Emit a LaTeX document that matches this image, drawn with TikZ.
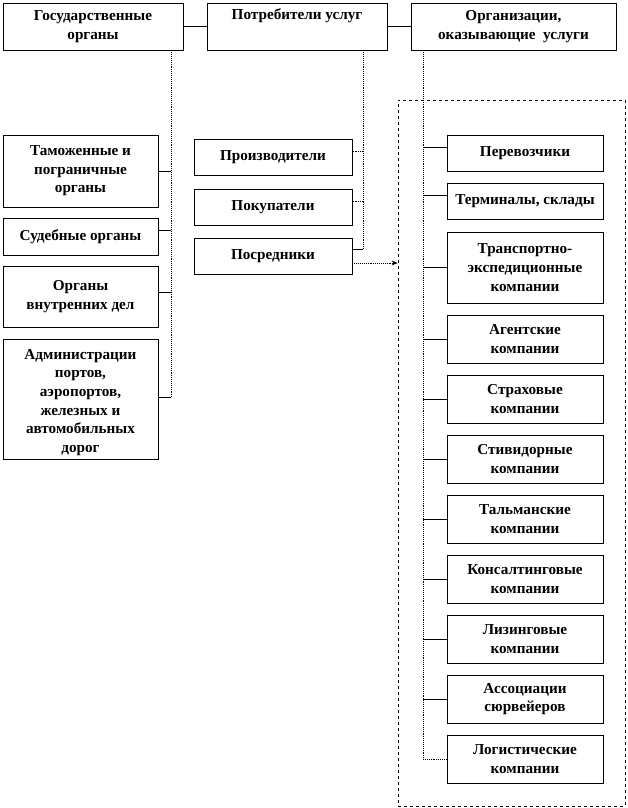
\documentclass[tikz,border=0pt]{standalone}
\usepackage{fontspec}
\setmainfont{Liberation Serif}
\usetikzlibrary{calc,arrows.meta}
\begin{document}
\begin{tikzpicture}[x=1pt,y=-1pt,
  box/.style n args={2}{draw, line width=0.8pt, align=center, inner sep=0pt,
    font=\fontsize{15.2}{18.6}\selectfont\bfseries,
    minimum width=#1pt, minimum height=#2pt},
  trunk/.style={line width=0.9pt, densely dotted},
  branch/.style={line width=0.8pt},
  dbranch/.style={line width=0.9pt, densely dotted},
  group/.style={draw, line width=0.8pt, dashed, inner sep=0pt},
  arr/.style={line width=0.9pt, densely dotted, -{Stealth[length=6pt,width=5pt]}}
]
\useasboundingbox (0,0) rectangle (628,808);
% top row
\node[box={180}{47}] (gos) at (93,26.5) {Государственные\\органы};
\node[box={180}{47}] (pot) at (297,26.5) {Потребители услуг\\\strut};
\node[box={205}{47}] (org) at (513.5,26.5) {Организации,\\оказывающие\ \ услуги};
\draw[branch] (gos.east) -- (pot.west);
\draw[branch] (pot.east) -- (org.west);
% left column
\node[box={155}{72}] (tam) at (80.5,171) {Таможенные и\\пограничные\\органы};
\node[box={155}{37}] (sud) at (80.5,236.5) {Судебные органы};
\node[box={155}{61}] (vnd) at (80.5,296.5) {Органы\\внутренних дел};
\node[box={155}{120}] (adm) at (80.5,399) {\rule{0pt}{17pt}Администрации\\портов,\\аэропортов,\\железных и\\автомобильных\\дорог};
\coordinate (gt) at (171,0 |- gos.south);
\coordinate (tamc) at (tam.east);
\coordinate (sudc) at ([yshift=6pt]sud.east);
\coordinate (vndc) at ([yshift=4pt]vnd.east);
\coordinate (admc) at ([yshift=2pt]adm.east);
\draw[trunk] (gt) -- (gt |- admc);
\foreach \c in {tamc,sudc,vndc,admc}
  \draw[branch] (gt |- \c) -- (\c);
% middle column
\node[box={158}{36}] (prod) at (273,157) {Производители};
\node[box={158}{36}] (pok) at (273,207) {Покупатели};
\node[box={158}{36}] (posr) at (273,256) {Посредники};
\coordinate (pt) at (363,0 |- pot.south);
\coordinate (prodc) at ([yshift=6pt]prod.east);
\coordinate (pokc) at ([yshift=6pt]pok.east);
\coordinate (posrc) at ([yshift=7pt]posr.east);
\draw[trunk] (pt) -- (pt |- posrc);
\draw[dbranch] (pt |- prodc) -- (prodc);
\draw[dbranch] (pt |- pokc) -- (pokc);
\draw[branch] (pt |- posrc) -- (posrc);
% right group
\node[group, minimum width=227pt, minimum height=706pt] (grp) at (511.5,453) {};
\coordinate (a0) at ([yshift=-7pt]posr.east);
\draw[arr] (a0) -- (a0 -| grp.west);
\node[box={156}{36}] (r1) at (525,153) {Перевозчики};
\node[box={156}{36}] (r2) at (525,201) {Терминалы, склады};
\node[box={156}{71}] (r3) at (525,267.5) {Транспортно-\\экспедиционные\\компании};
\node[box={156}{48}] (r4) at (525,339) {Агентские\\компании};
\node[box={156}{48}] (r5) at (525,399) {Страховые\\компании};
\node[box={156}{48}] (r6) at (525,459) {Стивидорные\\компании};
\node[box={156}{48}] (r7) at (525,519) {Тальманские\\компании};
\node[box={156}{48}] (r8) at (525,579) {Консалтинговые\\компании};
\node[box={156}{48}] (r9) at (525,639) {Лизинговые\\компании};
\node[box={156}{48}] (r10) at (525,699) {Ассоциации\\сюрвейеров};
\node[box={156}{48}] (r11) at (525,759) {Логистические\\компании};
\coordinate (ot) at (423,0 |- org.south);
\coordinate (r1c) at ([yshift=6pt]r1.west);
\coordinate (r2c) at ([yshift=6pt]r2.west);
\draw[trunk] (ot) -- (ot |- r11.west);
\draw[branch] (ot |- r1c) -- (r1c);
\draw[branch] (ot |- r2c) -- (r2c);
\foreach \n in {r3,r4,r5,r6,r7,r8,r9,r10}
  \draw[branch] (ot |- \n.west) -- (\n.west);
\draw[dbranch] (ot |- r11.west) -- (r11.west);
\end{tikzpicture}
\end{document}
